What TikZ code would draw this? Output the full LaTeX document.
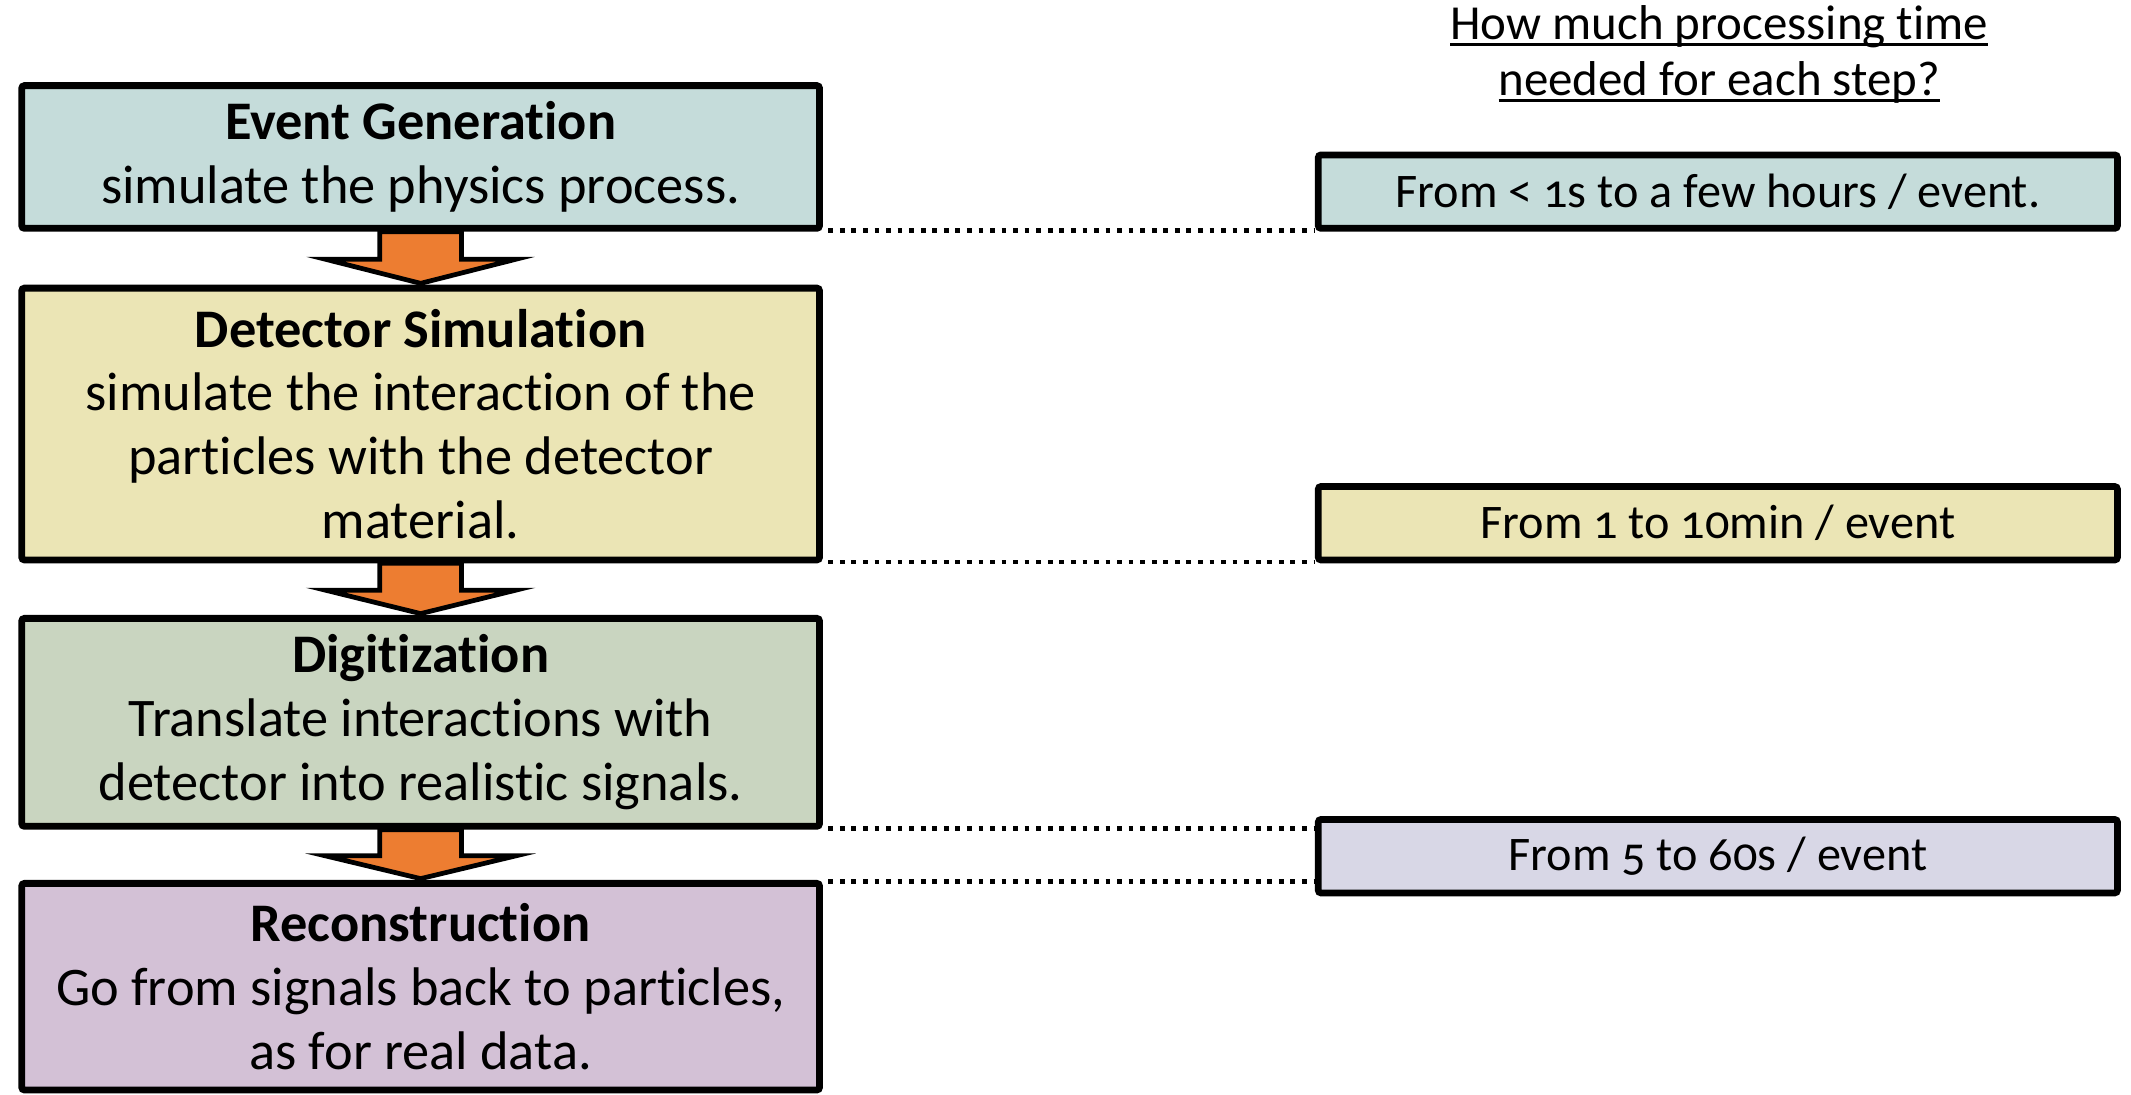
\documentclass[tikz,border=0pt]{standalone}
\usepackage{fontspec}
\setmainfont{Carlito}[Numbers=OldStyle,Ligatures={NoCommon,NoRequired,NoContextual}]
\usetikzlibrary{calc,backgrounds}
\definecolor{cteal}{RGB}{197,220,218}
\definecolor{cyel}{RGB}{235,229,181}
\definecolor{cgreen}{RGB}{201,213,192}
\definecolor{cpurp}{RGB}{211,193,214}
\definecolor{clav}{RGB}{216,215,230}
\definecolor{corange}{RGB}{237,125,49}
\newcommand\myul[1]{\leavevmode\setbox0\hbox{#1}\rlap{\copy0}\rule[-5pt]{\wd0}{2.2pt}}
\tikzset{
  stepbox/.style={draw=black, line width=5pt, rounded corners=2pt, inner sep=0pt,
    minimum width=587pt, align=center, font=\fontsize{40}{47}\selectfont},
  timebox/.style={draw=black, line width=5pt, rounded corners=2pt, inner sep=0pt,
    minimum width=588pt, minimum height=54pt, align=center, font=\fontsize{35.5}{41}\selectfont},
  flowarrow/.style={draw=black, fill=corange, line width=3.5pt, line join=miter},
  dotline/.style={line width=3.5pt, dash pattern=on 3.5pt off 5pt}
}
\begin{document}
\begin{tikzpicture}[x=1pt,y=-1pt]
\useasboundingbox (0,0) rectangle (1568,805);
% step boxes
\node[stepbox, fill=cteal, minimum height=105pt] (b1) at (309.5,115.5)
  {\textbf{Event Generation}\\simulate the physics process.};
\node[stepbox, fill=cyel, minimum height=200pt] (b2) at (309.5,312)
  {\textbf{Detector Simulation}\\simulate the interaction of the\\particles with the detector\\material.};
\node[stepbox, fill=cgreen, minimum height=153pt] (b3) at (309.5,531.5)
  {\textbf{Digitization}\\Translate interactions with\\detector into realistic signals.};
\node[stepbox, fill=cpurp, minimum height=152pt] (b4) at (309.5,726)
  {\textbf{Reconstruction}\\Go from signals back to particles,\\as for real data.};
% time boxes
\node[timebox, fill=cteal] (t1) at (1264,141) {From < 1s to a few hours / event.};
\node[timebox, fill=cyel] (t2) at (1264,385) {From 1 to 10min / event};
\node[timebox, fill=clav] (t3) at (1264,630) {From 5 to 60s / event};
% heading
\node[align=center, font=\fontsize{36}{41}\selectfont, inner sep=0pt] (head) at (1265,40)
  {\myul{How much processing time}\\\myul{needed for each step?}};
% arrows
\begin{scope}[on background layer]
\foreach \a/\b in {b1/b2, b2/b3, b3/b4}{
  \draw[flowarrow] let \p1=(\a.south), \p2=(\b.north), \n1={0.48*\y1+0.52*\y2} in
    (\x1-30pt,\y1) -- (\x1-30pt,\n1) -- (\x1-70pt,\n1) -- (\x2,\y2+1pt)
    -- (\x1+70pt,\n1) -- (\x1+30pt,\n1) -- (\x1+30pt,\y1) -- cycle;
}
\end{scope}
% dotted connectors
\coordinate (d1a) at ($(b1.south east)+(4,-1)$);
\coordinate (d2a) at ($(b2.south east)+(4,-1)$);
\coordinate (d3a) at ($(b3.south east)+(4,-1)$);
\coordinate (d4a) at ($(b4.north east)+(4,1)$);
\draw[dotline] (d1a) -- (d1a -| t1.west);
\draw[dotline] (d2a) -- (d2a -| t2.west);
\draw[dotline] (d3a) -- (d3a -| t3.west);
\draw[dotline] (d4a) -- (d4a -| t3.west);
\end{tikzpicture}
\end{document}
